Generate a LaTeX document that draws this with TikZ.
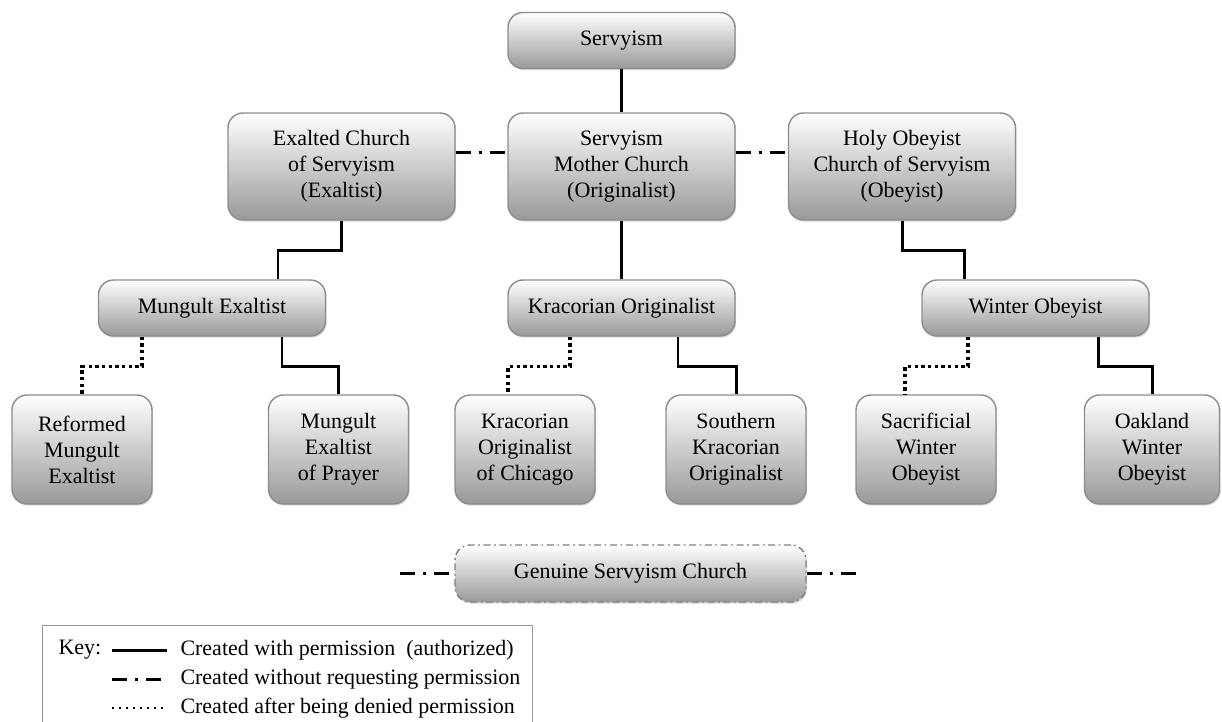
\documentclass[tikz,border=0pt]{standalone}
\usepackage{fontspec}
\setmainfont{Liberation Serif}
\usetikzlibrary{shadows}

\begin{document}
\begin{tikzpicture}[semithick
  ,font=\fontsize{12.5}{14.8}\selectfont
  ,authorized/.style={line width=1.7pt}
  ,unrequested/.style={line width=1.7pt
    ,dash pattern=on 0.3cm off 0.16cm on 0.06cm off 0.16cm}
  ,denied/.style={line width=1.9pt,dash pattern=on 1.9pt off 1.9pt}]
  \tikzstyle{church}=[draw=black!45,line width=0.8pt,rounded corners=0.3cm
    ,top color=white,bottom color=black!40,align=center,inner sep=2pt
    ,drop shadow={shadow xshift=0.7pt,shadow yshift=-0.9pt,opacity=0.3}]
  \tikzstyle{wide}=[church,minimum width=4.54cm,minimum height=1.12cm]
  \tikzstyle{big}=[church,minimum width=4.54cm,minimum height=2.14cm]
  \tikzstyle{leaf}=[church,minimum width=2.8cm,minimum height=2.18cm]
  \tikzstyle{keytext}=[anchor=west,inner sep=0pt]

  \useasboundingbox (0,0) rectangle (24.44,-14.42);

  % top of the tree
  \node[wide](serv)   at (12.43,-0.81) {Servyism};
  \node[big](exalt)   at (6.83,-3.33)  {Exalted Church\\of Servyism\\(Exaltist)};
  \node[big](mother)  at (12.43,-3.33) {Servyism\\Mother Church\\(Originalist)};
  \node[big](holy)    at (18.04,-3.33) {Holy Obeyist\\Church of Servyism\\(Obeyist)};

  % second row
  \node[wide](mung)   at (4.24,-6.16)  {Mungult Exaltist};
  \node[wide](krac)   at (12.43,-6.16) {Kracorian Originalist};
  \node[wide](winter) at (20.71,-6.16) {Winter Obeyist};

  % leaves
  \node[leaf](reform) at (1.64,-8.99)  {Reformed\\Mungult\\Exaltist};
  \node[leaf](prayer) at (6.77,-8.99)  {Mungult\\Exaltist\\of Prayer};
  \node[leaf](chic)   at (10.50,-8.99) {Kracorian\\Originalist\\of Chicago};
  \node[leaf](skrac)  at (14.72,-8.99) {Southern\\Kracorian\\Originalist};
  \node[leaf](sacr)   at (18.52,-8.99) {Sacrificial\\Winter\\Obeyist};
  \node[leaf,minimum width=2.7cm](oak) at (23.04,-8.99) {Oakland\\Winter\\Obeyist};

  \node[wide,minimum width=7.02cm,minimum height=1.14cm,draw=black!50
    ,dash pattern=on 4pt off 2pt on 1pt off 2pt](genuine) at (12.61,-11.47)
    {Genuine Servyism Church};
  \coordinate (gl) at (8.0,-11.47);
  \coordinate (gr) at (17.2,-11.47);

  \draw[authorized] (serv) -- (mother);
  \draw[authorized] (mother) -- (krac);
  \draw[unrequested] ([yshift=0.29cm]exalt.east) -- ([yshift=0.29cm]mother.west);
  \draw[unrequested] ([yshift=0.29cm]mother.east) -- ([yshift=0.29cm]holy.west);
  \draw[authorized] (exalt.south) -- ++(0,-0.6) -| ([xshift=1.32cm]mung.north);
  \draw[authorized] (holy.south) -- ++(0,-0.6) -| ([xshift=-1.43cm]winter.north);

  \draw[denied] ([xshift=-1.4cm]mung.south) -- ++(0,-0.6) -| (reform.north);
  \draw[authorized] ([xshift=1.4cm]mung.south) -- ++(0,-0.6) -| (prayer.north);
  \draw[denied] ([xshift=-1.03cm]krac.south) -- ++(0,-0.6) -| ([xshift=-0.34cm]chic.north);
  \draw[authorized] ([xshift=1.13cm]krac.south) -- ++(0,-0.6) -| (skrac.north);
  \draw[denied] ([xshift=-1.35cm]winter.south) -- ++(0,-0.6) -| ([xshift=-0.42cm]sacr.north);
  \draw[authorized] ([xshift=1.25cm]winter.south) -- ++(0,-0.6) -| (oak.north);

  \draw[unrequested] (gl) -- (genuine.west);
  \draw[unrequested] (genuine.east) -- (gr);

  % key
  \node[draw=black!40,line width=0.6pt,anchor=north west
    ,minimum width=9.8cm,minimum height=2.4cm](key) at (0.84,-12.5) {};
  \node[keytext](keylab) at (1.16,-13.0)  {Key:};
  \node[keytext](k1)     at (3.6,-13.0)  {Created with permission\enspace(authorized)};
  \node[keytext](k2)     at (3.6,-13.58) {Created without requesting permission};
  \node[keytext](k3)     at (3.6,-14.16) {Created after being denied permission};
  \draw[authorized] ([xshift=-1.36cm]k1.west) -- ++(1.1,0);
  \draw[unrequested] ([xshift=-1.36cm]k2.west) -- ++(1.1,0);
  \draw[line width=1.3pt,dash pattern=on 1.3pt off 2.7pt] ([xshift=-1.36cm]k3.west) -- ++(1.1,0);

\end{tikzpicture}
\end{document}
